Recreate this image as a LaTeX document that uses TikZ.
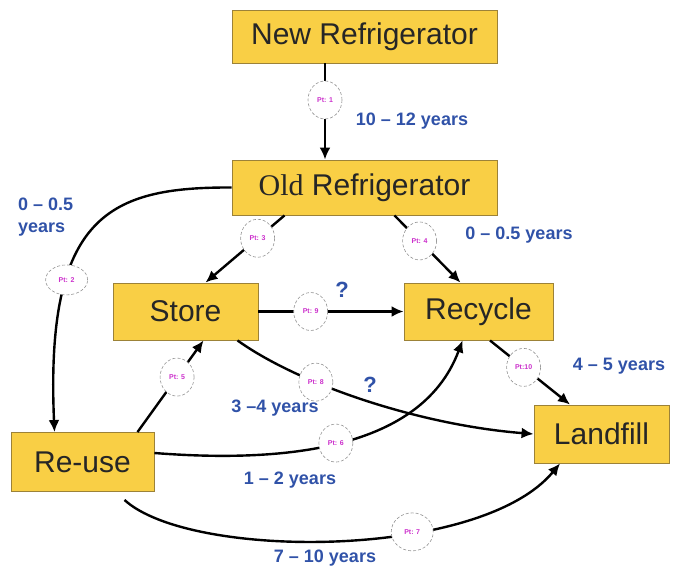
\documentclass[tikz,border=0pt]{standalone}
\usepackage{fontspec}
\setmainfont{Liberation Sans}
\newfontfamily\serifpart{Liberation Serif}
\usetikzlibrary{arrows.meta,shapes.geometric}
\definecolor{boxfill}{HTML}{F9CF45}
\definecolor{boxline}{HTML}{9C8238}
\definecolor{lblblue}{HTML}{3052A8}
\definecolor{ptpink}{HTML}{CC30CC}
\begin{document}
\begin{tikzpicture}[x=1pt,y=-1pt,
  stage/.style={draw=boxline, line width=0.9pt, fill=boxfill,
    font=\fontsize{30}{32}\selectfont, text=black!85, inner sep=0pt},
  ptmark/.style={ellipse, draw=gray!85, densely dashed, line width=0.6pt, fill=white,
    inner sep=0pt, minimum width=34pt, minimum height=38pt,
    font=\bfseries\fontsize{7}{8}\selectfont, text=ptpink},
  yrs/.style={font=\bfseries\fontsize{18}{22}\selectfont, text=lblblue, inner sep=0pt},
  flow/.style={line width=2.4pt, -{Latex[length=12pt,width=11pt]}}]
\useasboundingbox (0,0) rectangle (674,570);

% stages of the refrigerator's life
\node[stage, minimum width=265pt, minimum height=53pt] (new) at (364.5,36.5) {New Refrigerator};
\node[stage, minimum width=265pt, minimum height=55pt] (old) at (364.5,187.5) {{\serifpart Old} Refrigerator};
\node[stage, minimum width=145pt, minimum height=57pt] (store) at (185.5,311.5) {Store};
\node[stage, minimum width=149pt, minimum height=57pt] (recycle) at (478.5,311.5) {Recycle};
\node[stage, minimum width=135pt, minimum height=58pt] (landfill) at (601.5,434) {Landfill};
\node[stage, minimum width=143pt, minimum height=59pt] (reuse) at (82.5,462) {Re-use};

% transitions with their points
\draw[flow] ([xshift=-39.5pt]new.south) -- node[ptmark,pos=0.38] (p1) {Pt: 1} ([xshift=-39.5pt]old.north);
\draw[flow] ([xshift=-80pt]old.south) -- node[ptmark,pos=0.34] (p3) {Pt: 3} ([xshift=20pt]store.north);
\draw[flow] ([xshift=30pt]old.south) -- node[ptmark,pos=0.38] (p4) {Pt: 4} ([xshift=-18pt]recycle.north);
\draw[flow] (old.west) .. controls (110,187) and (45,215) .. ([xshift=-28pt]reuse.north)
  node[ptmark, pos=0.69, minimum width=42pt, minimum height=30pt] (p2) {Pt: 2};
\draw[flow] (store.east) -- node[ptmark,pos=0.36] (p9) {Pt: 9} (recycle.west);
\draw[flow] ([xshift=52pt]store.south) .. controls (300,385) and (420,425) .. (landfill.west)
  node[ptmark,pos=0.33] (p8) {Pt: 8};
\draw[flow] ([xshift=11.5pt]recycle.south) -- node[ptmark,pos=0.42] (p10) {Pt:10} ([xshift=-31.5pt]landfill.north);
\draw[flow] ([xshift=55pt]reuse.north) -- node[ptmark,pos=0.6] (p5) {Pt: 5} ([xshift=18pt]store.south);
\draw[flow] ([yshift=9pt]reuse.east) .. controls (270,462) and (420,455) .. ([xshift=-16pt]recycle.south)
  node[ptmark,pos=0.5] (p6) {Pt: 6};
\draw[flow] ([xshift=42pt,yshift=-8pt]reuse.south) .. controls (190,560) and (480,560) .. ([xshift=-41.5pt]landfill.south)
  node[ptmark,pos=0.64,minimum width=42pt] (p7) {Pt: 7};

% durations
\node[yrs] (l1) at (412,121) {10 -- 12 years};
\node[yrs, anchor=west, align=left] (l2) at (18,217) {0 -- 0.5\\years};
\node[yrs] (l4) at (519,235) {0 -- 0.5 years};
\node[yrs, font=\bfseries\fontsize{22}{24}\selectfont] (q1) at (342,290) {?};
\node[yrs, font=\bfseries\fontsize{22}{24}\selectfont] (q2) at (370,385) {?};
\node[yrs] (l10) at (619,366) {4 -- 5 years};
\node[yrs] (l5) at (275,408) {3 --4 years};
\node[yrs] (l6) at (290,480) {1 -- 2 years};
\node[yrs] (l7) at (325,558) {7 -- 10 years};
\end{tikzpicture}
\end{document}
